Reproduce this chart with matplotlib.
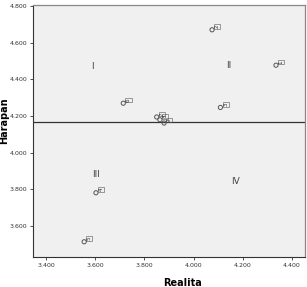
import numpy as np
import matplotlib.pyplot as plt

# data
realita = [4.335, 4.075, 4.109, 3.603, 3.555, 3.714, 3.850, 3.863, 3.880]
harapan = [4.477, 4.670, 4.247, 3.782, 3.515, 4.270, 4.195, 4.180, 4.162]
point_labels = ['1', '2', '3', '4', '5', '6', '7', '8', '9']
y_mean = 4.167

quadrant_names = ['I', 'II', 'III', 'IV']
quadrant_x = [3.590, 4.142, 3.605, 4.172]
quadrant_y = [4.470, 4.478, 3.880, 3.845]

xticks = [3.4, 3.6, 3.8, 4.0, 4.2, 4.4]
yticks = [3.6, 3.8, 4.0, 4.2, 4.4, 4.6, 4.8]

fig = plt.figure(figsize=(3.07, 2.87), dpi=100)
ax = fig.add_axes([0.1075, 0.1045, 0.886, 0.878])
ax.set_facecolor('#f0f0f0')

ax.scatter(realita, harapan, s=9, facecolors='none', edgecolors='#555555',
           linewidths=0.7, zorder=3)
for x, y, lab in zip(realita, harapan, point_labels):
    ax.annotate(lab, (x, y), xytext=(2, 1), textcoords='offset points',
                fontsize=4, rotation=90, color='#333333', va='bottom',
                ha='left',
                bbox=dict(boxstyle='square,pad=0.1', fc='none',
                          ec='#555555', lw=0.4))

ax.axhline(y_mean, color='#333333', lw=0.9, zorder=2)

for name, x, y in zip(quadrant_names, quadrant_x, quadrant_y):
    ax.text(x, y, name, fontsize=6.5, color='#444444', ha='center',
            va='center')

ax.set_xlim(3.347, 4.453)
ax.set_ylim(3.432, 4.805)
ax.set_xticks(xticks)
ax.set_yticks(yticks)
ax.set_xticklabels(['%.3f' % v for v in xticks])
ax.set_yticklabels(['%.3f' % v for v in yticks])
ax.tick_params(labelsize=4.5, length=2.5, width=0.6, colors='#333333',
               pad=1.5)

for side in ['top', 'right']:
    ax.spines[side].set_color('#888888')
    ax.spines[side].set_linewidth(0.9)
for side in ['left', 'bottom']:
    ax.spines[side].set_color('#333333')
    ax.spines[side].set_linewidth(0.8)

ax.set_xlabel('Realita', fontsize=7, fontweight='bold',
              family='Liberation Sans Narrow')
ax.set_ylabel('Harapan', fontsize=7, fontweight='bold',
              family='Liberation Sans Narrow')
ax.xaxis.set_label_coords(0.55, -0.085)
ax.yaxis.set_label_coords(-0.088, 0.54)

fig.savefig('out.png', dpi=100, facecolor='white')
